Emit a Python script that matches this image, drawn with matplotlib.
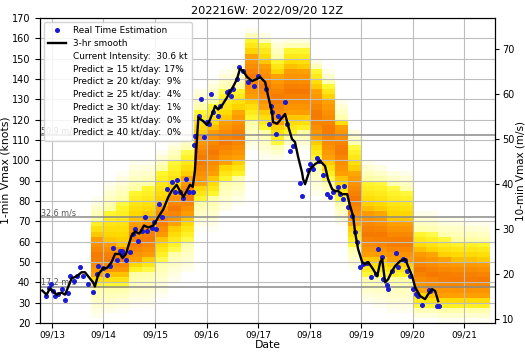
import matplotlib
matplotlib.use('Agg')
import matplotlib.pyplot as plt
import matplotlib.dates as mdates
from matplotlib.colors import LinearSegmentedColormap
from matplotlib.lines import Line2D
import numpy as np
import pandas as pd

# hours after 2022-09-13 00Z
est_hours = [-2.7, -1.3, -0.5, 0.6, 1.4, 2.9, 4.5, 6.1, 7.6, 8.4, 10.3, 11.5, 13.0, 14.6, 16.9,
             19.2, 20.8, 21.6, 23.9, 25.5, 27.0, 28.3, 30.2, 31.7, 32.5, 33.2, 34.5, 36.3, 37.9,
             38.7, 40.2, 41.8, 43.3, 44.1, 46.5, 47.5, 48.5, 50.0, 51.1, 53.5, 55.8, 57.3, 58.1,
             59.6, 60.9, 62.4, 64.0, 65.6, 66.3, 66.6, 68.5, 69.4, 70.8, 72.4, 73.0, 74.2, 75.2,
             77.5, 78.3, 81.4, 82.6, 83.4, 84.5, 86.1, 87.3, 88.9, 91.5, 94.3, 96.1, 99.7, 101.3,
             102.1, 102.4, 104.4, 105.5, 108.6, 109.4, 110.9, 112.4, 115.6, 116.4, 119.4, 120.2,
             121.8, 123.4, 124.6, 126.4, 128.3, 129.5, 131.1, 133.4, 134.2, 135.5, 136.1, 138.1,
             139.7, 141.2, 142.0, 143.5, 145.1, 146.6, 148.5, 150.8, 152.1, 153.6, 154.4, 156.0,
             156.7, 158.3, 160.3, 161.4, 163.4, 164.5, 165.3, 166.8, 168.4, 169.6, 170.7, 172.3,
             175.4, 176.1, 179.3, 180.5]
est_kt = [33.1, 37.2, 39.2, 35.9, 33.4, 34.2, 36.7, 31.4, 34.7, 43.3, 40.8, 43.3, 47.4, 43.3, 39.2,
          35.1, 44.1, 48.2, 47.0, 43.6, 48.2, 56.7, 51.1, 55.6, 55.6, 53.9, 51.1, 55.1, 63.8,
          66.3, 60.5, 65.4, 72.0, 65.4, 66.6, 69.5, 66.3, 78.8, 72.0, 85.9, 89.2, 84.3, 90.5,
          84.3, 81.3, 90.8, 84.3, 84.3, 107.7, 112.1, 122.0, 130.2, 111.3, 118.7, 117.9, 132.6, 123.6,
          121.6, 126.9, 133.4, 134.2, 131.8, 135.1, 140.0, 145.7, 144.1, 138.7, 136.7, 141.6, 135.1, 117.9,
          126.6, 123.9, 113.0, 122.0, 128.5, 117.9, 104.7, 106.9, 88.8, 82.3, 95.4, 98.2,
          95.7, 101.1, 99.8, 92.8, 83.4, 81.8, 84.3, 86.7, 83.4, 81.0, 87.2, 76.9,
          72.8, 64.6, 59.7, 47.4, 49.0, 49.8, 42.9, 44.1, 56.4, 52.3, 41.6, 38.7,
          37.0, 45.7, 54.7, 47.4, 51.5, 51.0, 45.7, 43.3, 36.7, 34.2, 33.4, 28.8,
          36.4, 35.8, 28.5, 28.5]

smooth_hours = [-4.5, -2.5, -0.9, 2.2, 4.5, 6.1, 9.2, 11.5, 13.8, 15.4, 16.9, 19.2, 20.0, 21.6, 23.9,
                25.5, 27.8, 29.4, 31.7, 32.9, 34.5, 35.6, 37.1, 38.7, 40.7, 42.9, 44.9, 47.2, 49.5,
                51.9, 54.2, 55.8, 58.1, 59.6, 61.2, 62.8, 64.3, 65.6, 66.6, 68.2, 70.4, 72.2, 73.2,
                75.0, 76.0, 77.4, 79.2, 81.6, 83.0, 84.3, 86.2, 87.6, 89.0, 90.9, 93.2, 95.5, 96.9,
                99.3, 100.7, 102.5, 103.0, 104.9, 107.2, 108.6, 110.0, 111.8, 113.2, 114.6, 116.5,
                117.0, 117.9, 120.2, 122.6, 124.9, 127.2, 128.6, 130.5, 131.9, 133.3, 135.1, 137.5,
                138.9, 140.3, 141.2, 142.6, 144.5, 145.9, 147.3, 149.6, 151.5, 152.9, 153.8, 155.2,
                156.6, 158.4, 159.8, 162.2, 164.5, 165.9, 167.8, 169.2, 171.5, 173.8, 175.2, 177.1,
                178.5, 179.9]
smooth_kt = [36, 34, 37, 34, 35, 34, 42, 43, 45, 45, 43, 40, 38, 44, 47,
             47, 50, 54, 54, 52, 54, 58, 63, 65, 64, 68, 67, 68, 72,
             76, 82, 85, 88, 85, 82, 85, 88, 87, 95, 121, 119.3, 117.4, 119,
             123.7, 126.7, 125, 127, 131, 134, 136, 140, 145, 144, 141, 139, 140, 141,
             138.5, 131.6, 123.7, 118.8, 118, 121, 122.8, 117, 110.5, 109, 102, 94,
             90.8, 88.3, 95.7, 98.2, 99.7, 97.2, 90.8, 85.9, 84.9, 84.9, 83.4, 83.4,
             77.5, 72.6, 64.7, 56.4, 50, 49, 50, 46.5, 43, 50, 51.5, 40,
             41.6, 45.6, 48, 50.5, 51.5, 48, 43, 37.6, 33.3, 31.8, 34.2, 36.7,
             35.8, 30.8]

fc_hours = [21, 27, 33, 39, 45, 51, 57, 63, 69, 75, 81, 87, 93, 99, 105, 111,
            117, 123, 129, 135, 141, 147, 153, 159, 165, 171, 177, 183, 189, 195, 201]
orange_lo = [43, 44, 44, 50, 52, 62, 68, 72, 88, 92, 98, 100, 130, 125, 118, 122,
             122, 110, 100, 92, 68, 52, 52, 50, 50, 36, 34, 33, 33, 33, 33]
orange_hi = [63, 60, 58, 70, 72, 78, 84, 92, 112, 116, 120, 124, 152, 148, 142, 146,
             145, 135, 130, 118, 94, 76, 74, 70, 70, 56, 54, 52, 51, 51, 50]
yellow_lo = [38, 38, 38, 45, 46, 51, 56, 61, 80, 82, 90, 92, 120, 115, 108, 112,
             114, 100, 91, 80, 58, 43, 43, 42, 42, 28, 28, 27, 27, 27, 27]
yellow_hi = [71, 76, 80, 86, 88, 96, 100, 104, 125, 128, 134, 136, 160, 158, 150, 155,
             155, 145, 137, 120, 107, 91, 90, 87, 85, 65, 64, 62, 61, 61, 60]
faint_lo = [22, 24, 26, 28, 28, 33, 40, 44, 66, 66, 74, 78, 105, 100, 100, 106,
            105, 82, 80, 68, 46, 30, 28, 25, 25, 22, 22, 21, 21, 21, 21]
faint_hi = [82, 90, 94, 100, 100, 104, 110, 116, 136, 140, 145, 148, 164, 162, 160, 160,
            160, 150, 145, 130, 116, 100, 98, 96, 95, 75, 75, 72, 72, 70, 70]

ms_lines = [17.2, 32.6, 50.9]
legend_notes = ['Current Intensity:  30.6 kt',
                'Predict \u2265 15 kt/day: 17%',
                'Predict \u2265 20 kt/day:  9%',
                'Predict \u2265 25 kt/day:  4%',
                'Predict \u2265 30 kt/day:  1%',
                'Predict \u2265 35 kt/day:  0%',
                'Predict \u2265 40 kt/day:  0%']

base = mdates.date2num(pd.Timestamp('2022-09-13'))
def tnum(h):
    return base + np.asarray(h, dtype=float) / 24.0

kt2ms = 0.88 * 0.514444  # 1-min knots -> 10-min m/s


def ramp(k, lo, hi, inner_lo, inner_hi):
    # 0 at outer edge of a band, 1 where the inner band starts
    if k < inner_lo:
        return (k - lo) / max(inner_lo - lo, 1e-6)
    return (hi - k) / max(hi - inner_hi, 1e-6)


# build the shading grid from the bands
row_edges = np.arange(20, 172.5, 2.5)
row_mid = row_edges[:-1] + 1.25
col_edges = np.append(np.array(fc_hours) - 3, fc_hours[-1] + 3)
grid = np.zeros((len(row_mid), len(fc_hours)))
for i in range(len(fc_hours)):
    mid = 0.5 * (orange_lo[i] + orange_hi[i])
    half = 0.5 * (orange_hi[i] - orange_lo[i])
    for j, k in enumerate(row_mid):
        if orange_lo[i] <= k <= orange_hi[i]:
            grid[j, i] = 0.78 + 0.22 * (1 - abs(k - mid) / half)
        elif yellow_lo[i] <= k <= yellow_hi[i]:
            grid[j, i] = 0.42 + 0.3 * ramp(k, yellow_lo[i], yellow_hi[i], orange_lo[i], orange_hi[i])
        elif faint_lo[i] <= k <= faint_hi[i]:
            grid[j, i] = 0.04 + 0.3 * ramp(k, faint_lo[i], faint_hi[i], yellow_lo[i], yellow_hi[i])
grid = np.ma.masked_where(grid == 0, grid)

cmap = LinearSegmentedColormap.from_list(
    'heat', [(0, '#ffffff'), (0.08, '#fffee8'), (0.35, '#ffffa0'), (0.45, '#fff830'),
             (0.65, '#ffd800'), (0.8, '#ffa000'), (1.0, '#f57800')])

fig = plt.figure(figsize=(5.25, 3.52), dpi=100)
ax = fig.add_axes([0.076, 0.082, 0.867, 0.867])

ax.pcolormesh(tnum(col_edges), row_edges, grid, cmap=cmap, vmin=0, vmax=1, zorder=0.5)

for v in ms_lines:
    k = v / kt2ms
    ax.axhline(k, color='#8a8a8a', lw=1.1, zorder=1.6)
    ax.text(tnum(-5.3), k + 0.8, '%.1f m/s' % v, fontsize=5.8, color='#555555', zorder=1.7)

ax.plot(tnum(est_hours), est_kt, 'o', color='#1a1ad6', ms=2.6, zorder=3)
ax.plot(tnum(smooth_hours), smooth_kt, color='black', lw=1.7, zorder=3)

ax.set_xlim(tnum(-5.6), tnum(206.4))
ax.set_ylim(20, 170)
ax.set_yticks(np.arange(20, 171, 10))
ax.xaxis.set_major_locator(mdates.DayLocator())
ax.xaxis.set_major_formatter(mdates.DateFormatter('%m/%d'))
ax.grid(True, color='#bdbdbd', lw=0.8)
ax.tick_params(axis='y', labelsize=7)
ax.tick_params(axis='x', labelsize=6.5, pad=2)
ax.set_xlabel('Date', fontsize=7.8, labelpad=0)
ax.set_ylabel('1-min Vmax (knots)', fontsize=7.8, labelpad=1)
ax.set_title('202216W: 2022/09/20 12Z', fontsize=8.2, pad=3)

ax2 = ax.twinx()
ax2.set_ylim(20 * kt2ms, 170 * kt2ms)
ax2.set_yticks(np.arange(10, 71, 10))
ax2.tick_params(labelsize=7, pad=2, length=3)
ax2.set_ylabel('10-min Vmax (m/s)', fontsize=7.5, labelpad=1)

handles = [Line2D([], [], marker='o', color='#1a1ad6', ls='none', ms=2.6),
           Line2D([], [], color='black', lw=1.7)]
labels = ['Real Time Estimation', '3-hr smooth']
for note in legend_notes:
    handles.append(Line2D([], [], ls='none'))
    labels.append(note)
leg = ax.legend(handles, labels, loc='upper left', fontsize=6.4, framealpha=0.85,
                handlelength=2.0, labelspacing=0.42, borderpad=0.45)
leg.set_zorder(5)

fig.savefig('out.png', dpi=100)
